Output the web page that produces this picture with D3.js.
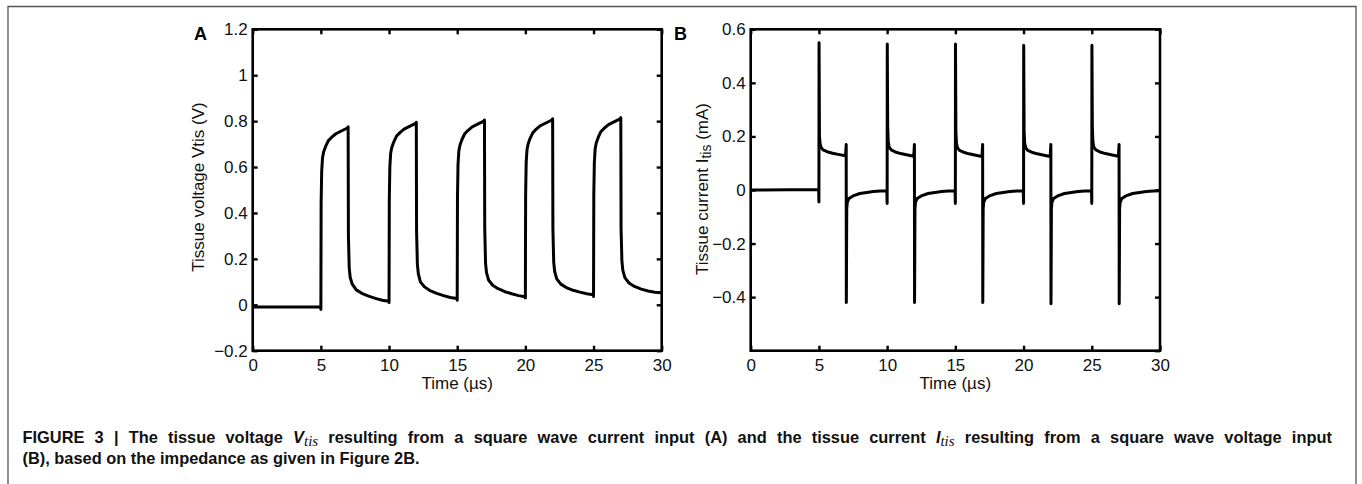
<!DOCTYPE html>
<html><head><meta charset="utf-8">
<script src="https://cdn.jsdelivr.net/npm/d3@7"></script>
<style>
body{margin:0;background:#fff;}
svg{display:block;}
text{font-family:"Liberation Sans",Arial,Helvetica,sans-serif;}
</style></head>
<body>
<svg id="c" width="1362" height="484"></svg>
<script>
// ---------- data ----------
const xTicks = [0, 5, 10, 15, 20, 25, 30];
const yTicksA = [-0.2, 0, 0.2, 0.4, 0.6, 0.8, 1, 1.2];
const yTicksB = [-0.4, -0.2, 0, 0.2, 0.4, 0.6];
const yTickMarksB = [-0.6, -0.4, -0.2, 0, 0.2, 0.4, 0.6];

// Panel A: tissue voltage (V) vs time (µs)
const voltageA = [
 [0,-0.01],[4.98,-0.01],[5,-0.02],[5.02,0.45],[5.06,0.58],[5.12,0.64],[5.2,0.665],[5.35,0.69],[5.55,0.715],[5.8,0.73],[6.1,0.745],[6.5,0.757],[6.95,0.77],[7,0.775],[7.02,0.3],[7.08,0.16],[7.15,0.12],[7.3,0.09],[7.6,0.065],[8,0.05],[8.5,0.038],[9,0.028],[9.5,0.02],[9.97,0.015],
 [10,0.01],[10.02,0.46],[10.06,0.6],[10.12,0.66],[10.2,0.685],[10.35,0.71],[10.55,0.735],[10.8,0.75],[11.1,0.765],[11.5,0.777],[11.95,0.79],[12,0.795],[12.02,0.32],[12.08,0.175],[12.15,0.135],[12.3,0.1],[12.6,0.078],[13,0.062],[13.5,0.05],[14,0.04],[14.5,0.032],[14.97,0.027],
 [15,0.02],[15.02,0.47],[15.06,0.61],[15.12,0.67],[15.2,0.695],[15.35,0.72],[15.55,0.745],[15.8,0.76],[16.1,0.775],[16.5,0.787],[16.95,0.8],[17,0.805],[17.02,0.33],[17.08,0.18],[17.15,0.14],[17.3,0.108],[17.6,0.085],[18,0.07],[18.5,0.057],[19,0.048],[19.5,0.04],[19.97,0.035],
 [20,0.03],[20.02,0.48],[20.06,0.62],[20.12,0.675],[20.2,0.7],[20.35,0.725],[20.55,0.75],[20.8,0.765],[21.1,0.78],[21.5,0.792],[21.95,0.805],[22,0.81],[22.02,0.33],[22.08,0.185],[22.15,0.145],[22.3,0.113],[22.6,0.09],[23,0.075],[23.5,0.063],[24,0.055],[24.5,0.048],[24.97,0.044],
 [25,0.036],[25.02,0.48],[25.06,0.62],[25.12,0.68],[25.2,0.705],[25.35,0.73],[25.55,0.755],[25.8,0.77],[26.1,0.785],[26.5,0.797],[26.95,0.81],[27,0.815],[27.02,0.33],[27.08,0.19],[27.15,0.15],[27.3,0.118],[27.6,0.095],[28,0.08],[28.5,0.068],[29,0.06],[29.5,0.055],[30,0.052]
];

// Panel B: tissue current (mA) vs time (µs)
const currentB = [
 [0,0],[4.9,0.002],[4.98,0.003],[5,-0.045],[5.01,0.55],[5.04,0.2],[5.08,0.175],[5.15,0.16],[5.3,0.15],[5.6,0.143],[6,0.137],[6.5,0.132],[6.95,0.128],[7,0.17],[7.01,-0.42],[7.04,-0.07],[7.08,-0.045],[7.2,-0.032],[7.5,-0.022],[8,-0.013],[8.5,-0.009],[9,-0.006],[9.5,-0.004],[9.98,-0.003],
 [10,-0.05],[10.01,0.545],[10.04,0.24],[10.08,0.18],[10.15,0.16],[10.3,0.15],[10.6,0.142],[11,0.136],[11.5,0.131],[11.95,0.126],[12,0.17],[12.01,-0.42],[12.04,-0.07],[12.08,-0.045],[12.2,-0.032],[12.5,-0.022],[13,-0.013],[13.5,-0.009],[14,-0.006],[14.5,-0.004],[14.98,-0.003],
 [15,-0.05],[15.01,0.545],[15.04,0.22],[15.08,0.175],[15.15,0.158],[15.3,0.148],[15.6,0.141],[16,0.135],[16.5,0.13],[16.95,0.125],[17,0.17],[17.01,-0.42],[17.04,-0.07],[17.08,-0.045],[17.2,-0.032],[17.5,-0.022],[18,-0.013],[18.5,-0.009],[19,-0.006],[19.5,-0.004],[19.98,-0.003],
 [20,-0.05],[20.01,0.54],[20.04,0.22],[20.08,0.175],[20.15,0.158],[20.3,0.148],[20.6,0.141],[21,0.135],[21.5,0.13],[21.95,0.125],[22,0.17],[22.01,-0.425],[22.04,-0.07],[22.08,-0.045],[22.2,-0.032],[22.5,-0.022],[23,-0.013],[23.5,-0.009],[24,-0.006],[24.5,-0.004],[24.98,-0.003],
 [25,-0.05],[25.01,0.54],[25.04,0.24],[25.08,0.18],[25.15,0.16],[25.3,0.15],[25.6,0.142],[26,0.136],[26.5,0.131],[26.95,0.126],[27,0.17],[27.01,-0.425],[27.04,-0.07],[27.08,-0.045],[27.2,-0.032],[27.5,-0.022],[28,-0.013],[28.5,-0.009],[29,-0.006],[29.5,-0.004],[30,-0.003]
];

// ---------- drawing ----------
const svg = d3.select("#c");

// outer frame
svg.append("path").attr("d","M8,500 L8,6.5 L1356,6.5 L1356,500")
  .attr("fill","none").attr("stroke","#555").attr("stroke-width",1.3);

const FS = 17;
function panel(opt){
  const g = svg.append("g");
  const x = d3.scaleLinear().domain([0,30]).range([opt.x0, opt.x1]);
  const y = d3.scaleLinear().domain(opt.ydom).range([opt.y1, opt.y0]);
  const tickLen = -5;

  const bottom = d3.axisBottom(x).tickValues(xTicks).tickFormat(d3.format("d"))
     .tickSizeInner(tickLen).tickSizeOuter(0).tickPadding(8);
  const gb = g.append("g").attr("transform",`translate(0,${opt.y1})`).call(bottom);
  const top = d3.axisTop(x).tickValues(xTicks).tickFormat("").tickSizeInner(tickLen).tickSizeOuter(0);
  const gt = g.append("g").attr("transform",`translate(0,${opt.y0})`).call(top);
  const left = d3.axisLeft(y).tickValues(opt.yTicks).tickFormat(d => d3.format("")(+d.toFixed(1)))
     .tickSizeInner(tickLen).tickSizeOuter(0).tickPadding(5);
  const gl = g.append("g").attr("transform",`translate(${opt.x0},0)`).call(left);
  const right = d3.axisRight(y).tickValues(opt.yMarks).tickFormat("").tickSizeInner(tickLen).tickSizeOuter(0);
  const gr = g.append("g").attr("transform",`translate(${opt.x1},0)`).call(right);
  [gb,gt,gl,gr].forEach(a=>{
    a.select(".domain").remove();
    a.selectAll(".tick line").attr("stroke","#000").attr("stroke-width",2.4);
    a.selectAll(".tick text").attr("font-size",FS).attr("fill","#111")
      .style("font-family",'"Liberation Sans",Arial,sans-serif');
  });

  // data line
  const line = d3.line().x(d=>x(d[0])).y(d=>y(d[1]));
  g.append("path").datum(opt.data).attr("d",line).attr("fill","none")
    .attr("stroke","#000").attr("stroke-width",3).attr("stroke-linejoin","round");

  // box
  g.append("rect").attr("x",opt.x0).attr("y",opt.y0).attr("width",opt.x1-opt.x0).attr("height",opt.y1-opt.y0)
    .attr("fill","none").attr("stroke","#000").attr("stroke-width",2.6);

  // x label
  g.append("text").attr("x",(opt.x0+opt.x1)/2).attr("y",opt.y1+38).attr("text-anchor","middle")
    .attr("font-size",FS).attr("fill","#111").text("Time (µs)");

  // y label
  const yl = g.append("text").attr("transform",`translate(${opt.ylx},${(opt.y0+opt.y1)/2 + opt.yloff}) rotate(-90)`)
    .attr("text-anchor","middle").attr("font-size",FS).attr("fill","#111");
  opt.ylab(yl);

  // panel letter
  g.append("text").attr("x",opt.lx).attr("y",opt.ly).attr("font-size",18).attr("font-weight","bold")
    .attr("fill","#000").text(opt.letter);
  return {x,y};
}

panel({x0:252.7, x1:661.7, y0:29.3, y1:350.7, ydom:[-0.2,1.2], yTicks:yTicksA, yMarks:yTicksA,
  data:voltageA, ylx:204, yloff:-3, letter:"A", lx:194, ly:40,
  ylab: t => { t.text("Tissue voltage Vtis (V)"); }});

panel({x0:750.7, x1:1160, y0:29.3, y1:350.7, ydom:[-0.6,0.6], yTicks:yTicksB, yMarks:yTickMarksB,
  data:currentB, ylx:708, yloff:-1, letter:"B", lx:674, ly:40,
  ylab: t => {
    t.append("tspan").text("Tissue current I");
    t.append("tspan").attr("dy",3).attr("font-size",14).text("tis");
    t.append("tspan").attr("dy",-3).text(" (mA)");
  }});

// caption
const CFS = 16.4;
const cap = svg.append("g").attr("font-size",CFS).attr("font-weight","bold").attr("fill","#111");
const l1 = cap.append("text").attr("x",22.5).attr("y",443);
const serif = '"Liberation Serif","Times New Roman",serif';
l1.append("tspan").text("FIGURE 3 | The tissue voltage ");
l1.append("tspan").attr("font-style","italic").text("V");
l1.append("tspan").attr("font-family",serif).attr("font-style","italic")
  .attr("font-weight","normal").attr("font-size",15).attr("dy",3).text("tis");
l1.append("tspan").attr("dy",-3).text(" resulting from a square wave current input (A) and the tissue current ");
l1.append("tspan").attr("font-style","italic").text("I");
l1.append("tspan").attr("font-family",serif).attr("font-style","italic")
  .attr("font-weight","normal").attr("font-size",15).attr("dy",3).text("tis");
l1.append("tspan").attr("dy",-3).text(" resulting from a square wave voltage input");
// justify line 1 to the column width
const natural = l1.node().getComputedTextLength();
const nSpaces = (l1.text().match(/ /g) || []).length;
const target = 1332 - 22.5;
l1.attr("word-spacing", ((target - natural) / nSpaces).toFixed(2));
cap.append("text").attr("x",22.5).attr("y",464).text("(B), based on the impedance as given in Figure 2B.");
</script>
</body></html>
